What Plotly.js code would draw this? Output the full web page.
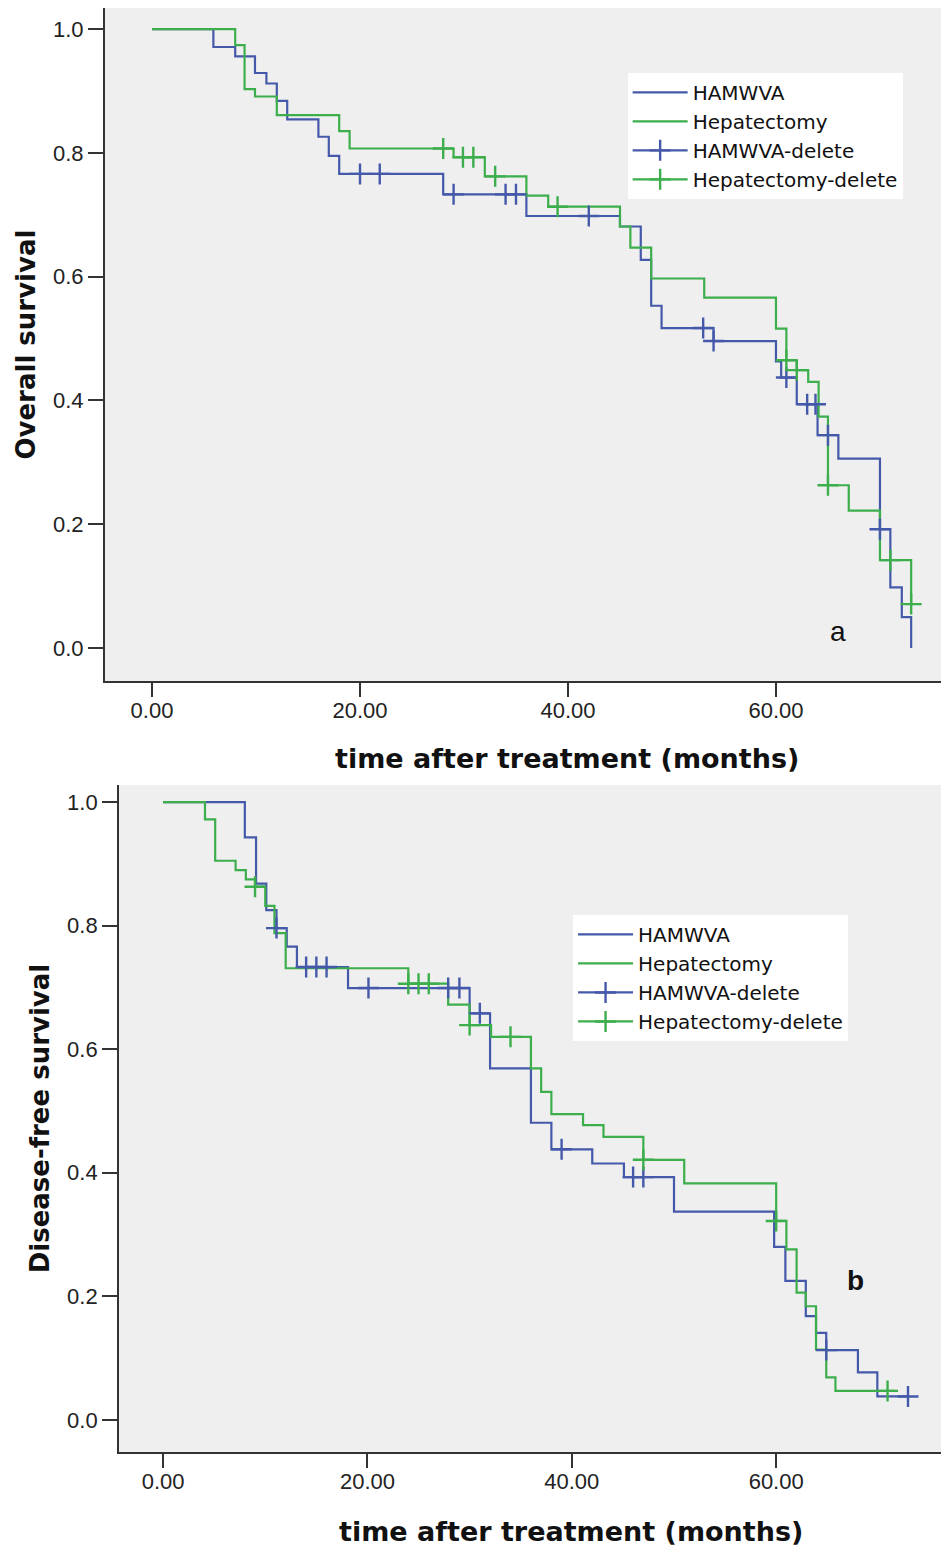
<!DOCTYPE html>
<html>
<head>
<meta charset="utf-8">
<script src="https://cdn.plot.ly/plotly-3.0.1.min.js"></script>
<style>html,body{margin:0;padding:0;background:#fff;}#chart{width:941px;height:1550px;}</style>
</head>
<body>
<div id="chart"></div>
<script>
// ---------- Data ----------
const seriesNames = ['HAMWVA', 'Hepatectomy', 'HAMWVA-delete', 'Hepatectomy-delete'];
const xTickVals = [0, 20, 40, 60];
const xTickText = ['0.00', '20.00', '40.00', '60.00'];
const yTickVals = [0, 0.2, 0.4, 0.6, 0.8, 1.0];
const yTickText = ['0.0', '0.2', '0.4', '0.6', '0.8', '1.0'];
const xTitleText = 'time after treatment (months)';
const yTitleA = 'Overall survival';
const yTitleB = 'Disease-free survival';

// (a) Overall survival
const osHamwvaTime = [0, 5.9, 8.0, 9.9, 11.0, 12.0, 13.0, 16.0, 17.0, 18.0, 28.0, 36.0, 45.0, 47.0, 48.0, 49.0, 54.0, 60.0, 60.5, 62.0, 64.0, 66.0, 70.0, 71.0, 72.1, 73.0];
const osHamwvaSurv = [1.0, 0.971, 0.956, 0.929, 0.912, 0.884, 0.854, 0.826, 0.795, 0.766, 0.733, 0.698, 0.681, 0.627, 0.553, 0.517, 0.496, 0.463, 0.437, 0.394, 0.344, 0.306, 0.192, 0.098, 0.050, 0.0];
const osHamwvaCensor = [20.0, 21.9, 29.0, 34.0, 35.0, 42.0, 53.0, 54.0, 61.0, 63.0, 63.8, 65.0, 70.0];

const osHepTime = [0, 8.0, 8.9, 9.9, 12.0, 18.0, 19.0, 29.0, 32.0, 36.0, 38.1, 45.0, 46.0, 48.0, 53.1, 60.0, 61.0, 62.0, 63.1, 64.1, 65.0, 67.0, 70.0, 73.0];
const osHepSurv = [1.0, 0.974, 0.903, 0.891, 0.861, 0.835, 0.807, 0.793, 0.762, 0.731, 0.713, 0.681, 0.647, 0.597, 0.566, 0.516, 0.465, 0.449, 0.430, 0.374, 0.263, 0.222, 0.142, 0.071];
const osHepCensor = [28.0, 29.9, 30.9, 33.0, 39.0, 61.0, 62.0, 65.0, 71.0, 73.0];

// (b) Disease-free survival
const dfsHamwvaTime = [0, 8.0, 9.1, 10.1, 11.1, 12.1, 13.1, 18.1, 30.0, 32.0, 36.0, 38.0, 42.0, 45.1, 50.0, 59.8, 60.9, 62.9, 63.9, 64.9, 68.0, 69.9, 72.9];
const dfsHamwvaSurv = [1.0, 0.943, 0.868, 0.825, 0.796, 0.766, 0.733, 0.699, 0.658, 0.569, 0.481, 0.438, 0.415, 0.393, 0.337, 0.280, 0.225, 0.168, 0.141, 0.113, 0.077, 0.038, 0.038];
const dfsHamwvaCensor = [11.1, 14.0, 15.0, 16.0, 20.1, 27.9, 29.0, 31.0, 39.0, 46.0, 47.0, 64.9, 72.9];

const dfsHepTime = [0, 4.1, 5.1, 7.1, 8.1, 9.0, 10.0, 10.9, 12.0, 24.0, 27.9, 30.0, 32.1, 36.0, 37.0, 38.0, 41.1, 43.1, 47.0, 51.0, 60.0, 61.0, 62.0, 62.9, 63.9, 64.9, 65.8, 71.6];
const dfsHepSurv = [1.0, 0.972, 0.905, 0.890, 0.875, 0.863, 0.832, 0.788, 0.731, 0.706, 0.672, 0.639, 0.620, 0.569, 0.531, 0.495, 0.477, 0.458, 0.421, 0.383, 0.322, 0.276, 0.206, 0.184, 0.114, 0.069, 0.047, 0.047];
const dfsHepCensor = [9.0, 24.0, 25.0, 26.0, 30.0, 34.0, 47.0, 60.0, 70.9];

// ---------- Styling ----------
const BLUE = '#4559aa';
const GREEN = '#3dae4c';
const AX = '#333333';

function survAt(times, surv, t) {
  let s = surv[0];
  for (let i = 0; i < times.length; i++) if (times[i] <= t + 1e-9) s = surv[i];
  return s;
}
function censorXY(times, surv, cens) {
  const x = [], y = [];
  cens.forEach((t, i) => {
    if (i > 0) { x.push(null); y.push(null); }
    x.push(t); y.push(survAt(times, surv, t));
  });
  return {x, y};
}
function stepTrace(times, surv, name, color, xa, ya, lg) {
  return {x: times, y: surv, name: name, type: 'scatter', mode: 'lines',
    line: {shape: 'hv', color: color, width: 2.2}, xaxis: xa, yaxis: ya, legend: lg,
    hoverinfo: 'skip'};
}
function censorTrace(times, surv, cens, name, color, xa, ya, lg) {
  const c = censorXY(times, surv, cens);
  return {x: c.x, y: c.y, name: name, type: 'scatter', mode: 'lines+markers',
    connectgaps: false, line: {color: color, width: 2.2},
    marker: {symbol: 'cross-thin-open', size: 15, line: {color: color, width: 2.4}},
    xaxis: xa, yaxis: ya, legend: lg, hoverinfo: 'skip'};
}

const data = [
  stepTrace(osHamwvaTime, osHamwvaSurv, seriesNames[0], BLUE, 'x', 'y', 'legend'),
  stepTrace(osHepTime, osHepSurv, seriesNames[1], GREEN, 'x', 'y', 'legend'),
  censorTrace(osHamwvaTime, osHamwvaSurv, osHamwvaCensor, seriesNames[2], BLUE, 'x', 'y', 'legend'),
  censorTrace(osHepTime, osHepSurv, osHepCensor, seriesNames[3], GREEN, 'x', 'y', 'legend'),
  stepTrace(dfsHamwvaTime, dfsHamwvaSurv, seriesNames[0], BLUE, 'x2', 'y2', 'legend2'),
  stepTrace(dfsHepTime, dfsHepSurv, seriesNames[1], GREEN, 'x2', 'y2', 'legend2'),
  censorTrace(dfsHamwvaTime, dfsHamwvaSurv, dfsHamwvaCensor, seriesNames[2], BLUE, 'x2', 'y2', 'legend2'),
  censorTrace(dfsHepTime, dfsHepSurv, dfsHepCensor, seriesNames[3], GREEN, 'x2', 'y2', 'legend2')
];

const tickFont = {family: 'Liberation Sans, Arial, sans-serif', size: 22, color: '#222'};
const titleFont = {family: 'DejaVu Sans, sans-serif', size: 26, color: '#111'};
const xTitleFont = {family: 'DejaVu Sans, sans-serif', size: 27, color: '#111'};
function xAxis(domain, range, anchor) {
  return {domain: domain, range: range, anchor: anchor, tickmode: 'array', tickvals: xTickVals, ticktext: xTickText,
    showline: true, linecolor: AX, linewidth: 2, ticks: 'outside', ticklen: 14, tickwidth: 2, tickcolor: AX,
    ticklabelstandoff: -5,
    showgrid: false, zeroline: false, tickfont: tickFont, fixedrange: true};
}
function yAxis(domain, range, anchor, title) {
  return {domain: domain, range: range, anchor: anchor, tickmode: 'array', tickvals: yTickVals, ticktext: yTickText,
    showline: true, linecolor: AX, linewidth: 2, ticks: 'outside', ticklen: 15, tickwidth: 2, tickcolor: AX,
    showgrid: false, zeroline: false, tickfont: tickFont, fixedrange: true,
    title: {text: '<b>' + title + '</b>', font: titleFont, standoff: 10}};
}
const legendStyle = {bgcolor: '#ffffff', borderwidth: 0, font: {family: 'DejaVu Sans, sans-serif', size: 20, color: '#111'},
  itemwidth: 55, tracegroupgap: 0, xanchor: 'left', yanchor: 'top', traceorder: 'normal'};

const layout = {
  width: 941, height: 1550,
  margin: {l: 0, r: 0, t: 0, b: 0},
  paper_bgcolor: '#ffffff', plot_bgcolor: '#efefef',
  showlegend: true,
  xaxis: xAxis([0.1116, 1], [-4.52, 75.87], 'y'),
  yaxis: yAxis([0.5606, 0.9948], [-0.0533, 1.0339], 'x', yTitleA),
  xaxis2: xAxis([0.1265, 1], [-4.31, 76.13], 'y2'),
  yaxis2: yAxis([0.0632, 0.4935], [-0.052, 1.0275], 'x2', yTitleB),
  legend: Object.assign({x: 0.667, y: 0.953}, legendStyle),
  legend2: Object.assign({x: 0.609, y: 0.4097}, legendStyle),
  annotations: [
    {text: '<b>' + xTitleText + '</b>', xref: 'paper', yref: 'paper', x: 567 / 941, y: 1 - 758 / 1550,
      xanchor: 'center', yanchor: 'middle', showarrow: false, font: xTitleFont},
    {text: '<b>' + xTitleText + '</b>', xref: 'paper', yref: 'paper', x: 571 / 941, y: 1 - 1531 / 1550,
      xanchor: 'center', yanchor: 'middle', showarrow: false, font: xTitleFont},
    {text: 'a', xref: 'paper', yref: 'paper', x: 838 / 941, y: 1 - 631 / 1550, xanchor: 'center', yanchor: 'middle',
      showarrow: false, font: {family: 'Liberation Sans, Arial, sans-serif', size: 28, color: '#111'}},
    {text: '<b>b</b>', xref: 'paper', yref: 'paper', x: 855 / 941, y: 1 - 1280 / 1550, xanchor: 'center', yanchor: 'middle',
      showarrow: false, font: {family: 'Liberation Sans, Arial, sans-serif', size: 28, color: '#111'}}
  ]
};

Plotly.newPlot('chart', data, layout, {displayModeBar: false, staticPlot: true});
</script>
</body>
</html>
